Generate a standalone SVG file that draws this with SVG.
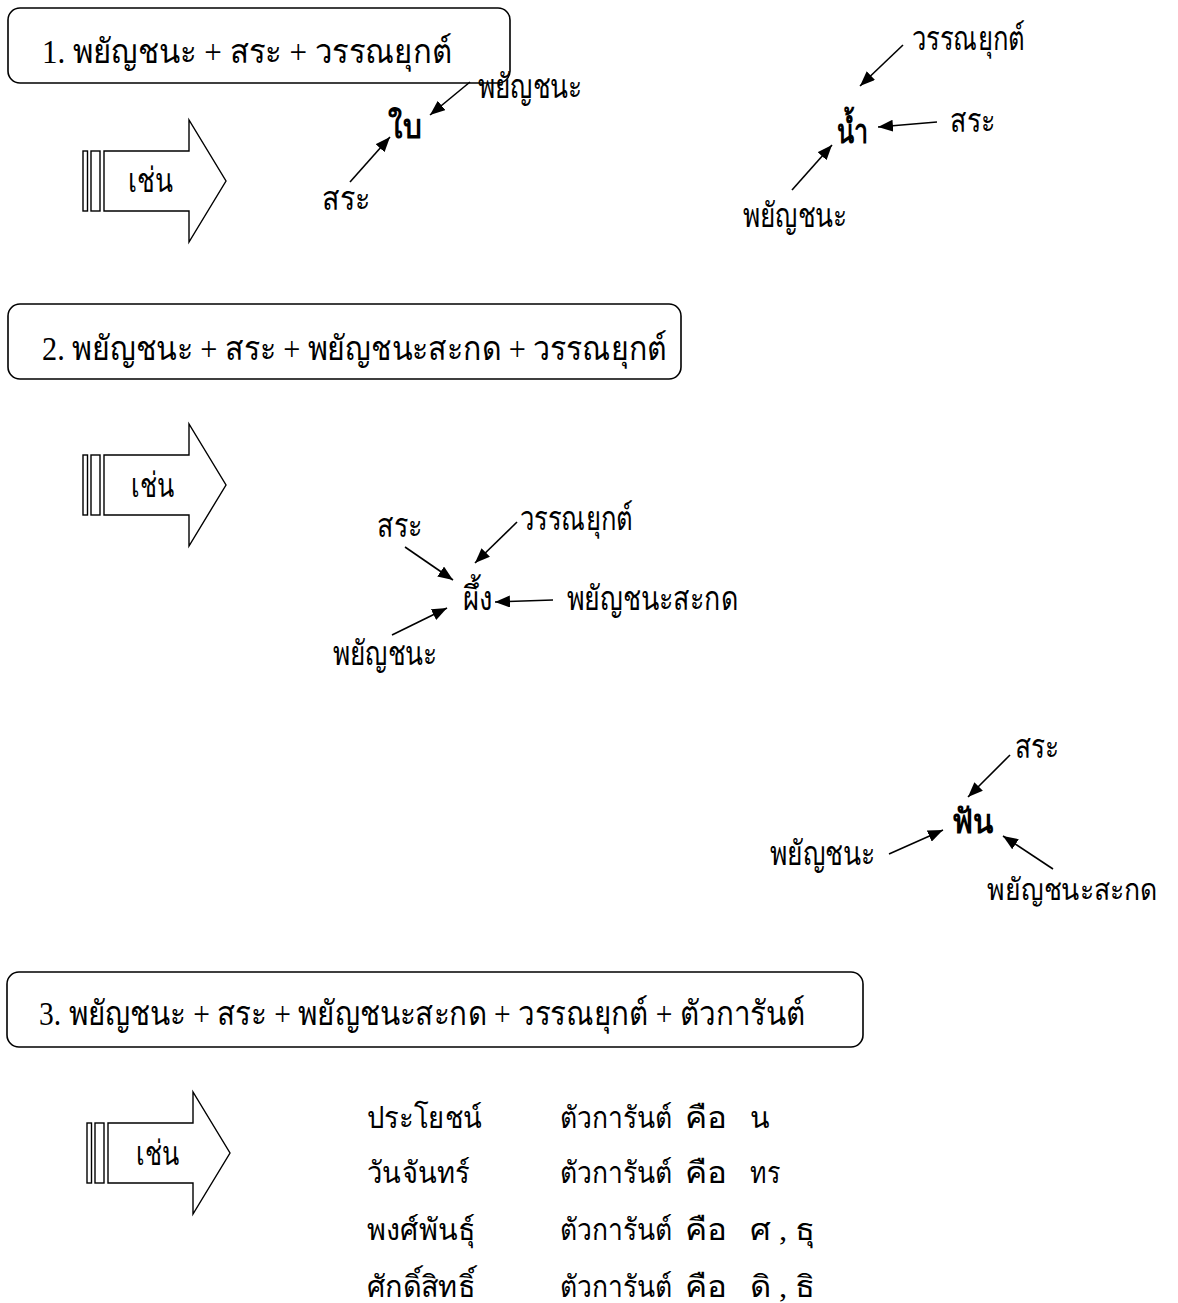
<svg xmlns="http://www.w3.org/2000/svg" width="1178" height="1303" viewBox="0 0 1178 1303">
<defs>
<style>
text{font-family:"Liberation Serif","DejaVu Serif",serif;font-size:34px;fill:#000}
.b{font-weight:bold}
.s{font-size:30px}
.box{fill:#fff;stroke:#000;stroke-width:1.6}
.blk{fill:#fff;stroke:#000;stroke-width:1.4}
.con line{stroke:#000;stroke-width:1.6;marker-end:url(#ah)}
</style>
<marker id="ah" markerUnits="userSpaceOnUse" markerWidth="16" markerHeight="12" refX="15" refY="6" orient="auto">
<path d="M0,0 L15,6 L0,12 z" fill="#000"/>
</marker>
<g id="arrowShape">
<rect class="blk" x="83" y="151" width="4.5" height="60"/>
<rect class="blk" x="91" y="151" width="9" height="60"/>
<path class="blk" d="M104,151 L189,151 L189,120 L226,181 L189,242 L189,211 L104,211 Z"/>
</g>
</defs>
<rect width="1178" height="1303" fill="#fff"/>

<g id="box1">
<rect class="box" x="8" y="8" width="502" height="75" rx="12"/>
<text x="42" y="63" textLength="410" lengthAdjust="spacingAndGlyphs">1. พยัญชนะ + สระ + วรรณยุกต์</text>
</g>
<g id="arrow1">
<use href="#arrowShape"/>
<text x="128" y="192" textLength="45" lengthAdjust="spacingAndGlyphs">เช่น</text>
</g>
<g id="word-bai">
<text class="b" x="388" y="138" textLength="34" lengthAdjust="spacingAndGlyphs">ใบ</text>
</g>
<g id="bai-phayanchana"><text x="478" y="98" textLength="104" lengthAdjust="spacingAndGlyphs">พยัญชนะ</text></g>
<g id="bai-sara"><text x="322" y="210" textLength="48" lengthAdjust="spacingAndGlyphs">สระ</text></g>

<g id="word-nam">
<text class="b" x="837" y="143" textLength="31" lengthAdjust="spacingAndGlyphs">น้ำ</text>
</g>
<g id="nam-wannayuk"><text x="912" y="50" textLength="113" lengthAdjust="spacingAndGlyphs">วรรณยุกต์</text></g>
<g id="nam-sara"><text x="950" y="132" textLength="45" lengthAdjust="spacingAndGlyphs">สระ</text></g>
<g id="nam-phayanchana"><text x="743" y="227" textLength="104" lengthAdjust="spacingAndGlyphs">พยัญชนะ</text></g>

<g id="box2">
<rect class="box" x="8" y="304" width="673" height="75" rx="12"/>
<text x="42" y="360" textLength="625" lengthAdjust="spacingAndGlyphs">2. พยัญชนะ + สระ + พยัญชนะสะกด + วรรณยุกต์</text>
</g>
<g id="arrow2">
<use href="#arrowShape" y="304"/>
<text x="131" y="497" textLength="43" lengthAdjust="spacingAndGlyphs">เช่น</text>
</g>
<g id="word-phueng">
<text x="463" y="610" textLength="30" lengthAdjust="spacingAndGlyphs">ผึ้ง</text>
</g>
<g id="phueng-sara"><text x="377" y="537" textLength="45" lengthAdjust="spacingAndGlyphs">สระ</text></g>
<g id="phueng-wannayuk"><text x="520" y="530" textLength="113" lengthAdjust="spacingAndGlyphs">วรรณยุกต์</text></g>
<g id="phueng-sakot"><text x="567" y="610" textLength="171" lengthAdjust="spacingAndGlyphs">พยัญชนะสะกด</text></g>
<g id="phueng-phayanchana"><text x="333" y="665" textLength="104" lengthAdjust="spacingAndGlyphs">พยัญชนะ</text></g>

<g id="word-fan">
<text class="b" x="952" y="833" textLength="41" lengthAdjust="spacingAndGlyphs">ฟัน</text>
</g>
<g id="fan-sara"><text x="1015" y="758" textLength="44" lengthAdjust="spacingAndGlyphs">สระ</text></g>
<g id="fan-phayanchana"><text x="770" y="865" textLength="105" lengthAdjust="spacingAndGlyphs">พยัญชนะ</text></g>
<g id="fan-sakot"><text class="s" x="987" y="900" textLength="170" lengthAdjust="spacingAndGlyphs">พยัญชนะสะกด</text></g>

<g id="box3">
<rect class="box" x="7" y="972" width="856" height="75" rx="12"/>
<text x="39" y="1025" textLength="766" lengthAdjust="spacingAndGlyphs">3. พยัญชนะ + สระ + พยัญชนะสะกด + วรรณยุกต์ + ตัวการันต์</text>
</g>
<g id="arrow3">
<use href="#arrowShape" x="4" y="972"/>
<text x="136" y="1165" textLength="43" lengthAdjust="spacingAndGlyphs">เช่น</text>
</g>

<g id="examples" class="ex">
<text class="s" x="367" y="1128" textLength="115" lengthAdjust="spacingAndGlyphs">ประโยชน์</text>
<text class="s" x="560" y="1128" textLength="112" lengthAdjust="spacingAndGlyphs">ตัวการันต์</text>
<text class="s" x="685" y="1128" textLength="42" lengthAdjust="spacingAndGlyphs">คือ</text>
<text class="s" x="750" y="1128" textLength="20" lengthAdjust="spacingAndGlyphs">น</text>

<text class="s" x="367" y="1183" textLength="103" lengthAdjust="spacingAndGlyphs">วันจันทร์</text>
<text class="s" x="560" y="1183" textLength="112" lengthAdjust="spacingAndGlyphs">ตัวการันต์</text>
<text class="s" x="685" y="1183" textLength="42" lengthAdjust="spacingAndGlyphs">คือ</text>
<text class="s" x="750" y="1183" textLength="30" lengthAdjust="spacingAndGlyphs">ทร</text>

<text class="s" x="367" y="1240" textLength="108" lengthAdjust="spacingAndGlyphs">พงศ์พันธุ์</text>
<text class="s" x="560" y="1240" textLength="112" lengthAdjust="spacingAndGlyphs">ตัวการันต์</text>
<text class="s" x="685" y="1240" textLength="42" lengthAdjust="spacingAndGlyphs">คือ</text>
<text class="s" x="750" y="1240" textLength="65" lengthAdjust="spacingAndGlyphs">ศ , ธุ</text>

<text class="s" x="367" y="1297" textLength="108" lengthAdjust="spacingAndGlyphs">ศักดิ์สิทธิ์</text>
<text class="s" x="560" y="1297" textLength="112" lengthAdjust="spacingAndGlyphs">ตัวการันต์</text>
<text class="s" x="685" y="1297" textLength="42" lengthAdjust="spacingAndGlyphs">คือ</text>
<text class="s" x="750" y="1297" textLength="65" lengthAdjust="spacingAndGlyphs">ดิ , ธิ</text>
</g>

<g id="connectors" class="con">
<line x1="470" y1="82" x2="430" y2="115"/>
<line x1="350" y1="182" x2="390" y2="137"/>
<line x1="903" y1="45" x2="860" y2="86"/>
<line x1="937" y1="122" x2="878" y2="127"/>
<line x1="792" y1="190" x2="832" y2="145"/>
<line x1="517" y1="522" x2="475" y2="563"/>
<line x1="405" y1="547" x2="453" y2="580"/>
<line x1="553" y1="600" x2="495" y2="602"/>
<line x1="392" y1="635" x2="447" y2="608"/>
<line x1="1010" y1="755" x2="968" y2="797"/>
<line x1="889" y1="854" x2="943" y2="830"/>
<line x1="1053" y1="869" x2="1003" y2="836"/>
</g>
</svg>
